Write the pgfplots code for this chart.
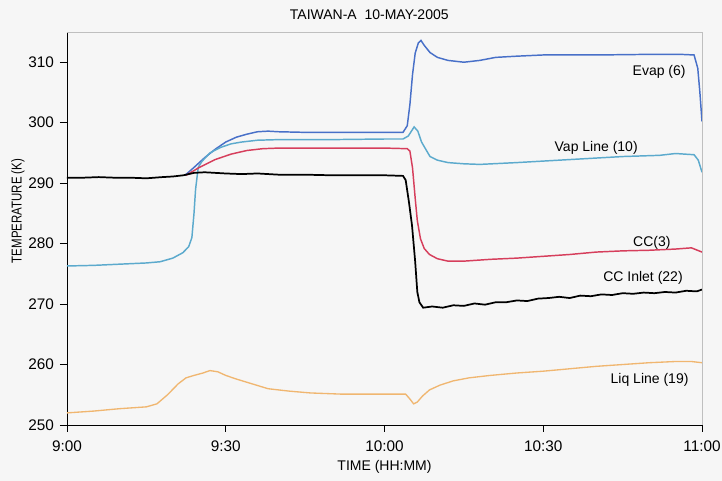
\documentclass[border=0pt]{standalone}
\usepackage{fontspec}
\setmainfont{Liberation Sans}
\newfontfamily\narrowfont{Liberation Sans}[FakeStretch=0.8]
\usepackage{pgfplots}
\pgfplotsset{compat=1.18}
\usetikzlibrary{backgrounds}

\definecolor{paper}{RGB}{246,246,246}
\definecolor{evapblue}{RGB}{72,112,200}
\definecolor{vapteal}{RGB}{92,170,205}
\definecolor{ccred}{RGB}{214,62,92}
\definecolor{liqorange}{RGB}{240,182,112}

\begin{document}
\begin{tikzpicture}
\begin{axis}[
  name=ax,
  scale only axis,
  width=476.25pt, height=294.75pt,
  xmin=0, xmax=120, ymin=250, ymax=315,
  axis lines*=left,
  axis line style={-, black, line width=0.6pt},
  tick align=outside,
  major tick length=5.25pt,
  tick style={black, line width=0.6pt},
  xtick={0,30,60,90,120},
  xticklabels={9:00,9:30,10:00,10:30,11:00},
  ytick={250,260,...,310},
  /pgf/number format/assume math mode=true,
  tick label style={font=\fontsize{11.5}{13}\selectfont},
  yticklabel style={xshift=-1pt},
  xticklabel style={yshift=-3pt},
  title={TAIWAN-A\ \ 10-MAY-2005},
  xlabel={TIME (HH:MM)},
  ylabel={TEMPERATURE (K)},
  every axis title/.style={at={(axis description cs:0.476,1.0433)}, anchor=center,
    font=\fontsize{10.5}{12}\selectfont},
  every axis x label/.style={at={(axis description cs:0.5,-0.1069)}, anchor=center,
    font=\fontsize{10.5}{12}\selectfont},
  every axis y label/.style={at={(axis description cs:-0.0772,0.5445)}, anchor=center, rotate=90,
    font=\narrowfont\fontsize{10.75}{12}\selectfont},
  clip=false,
]

% Evaporator (6)
\addplot[evapblue, line width=1.1pt] coordinates {
(22.3,291.3) (24,292.6) (26,294.2) (28,295.6) (30,296.8) (32,297.6) (34,298.1)
(36,298.5) (38,298.6) (40,298.5) (45,298.4) (50,298.4) (55,298.4) (60,298.4)
(63.5,298.4) (64.3,299.5) (64.8,303) (65.3,308) (65.8,311.5) (66.4,313.2)
(66.9,313.6) (67.5,312.8) (68.6,311.6) (70,310.8) (72,310.3) (75,310.0)
(78,310.3) (81,310.8) (85,311.0) (90,311.2) (100,311.2) (110,311.3)
(116,311.3) (118.5,311.2) (119.2,309) (119.6,305) (120,300.2)
};

% Vapour line (10)
\addplot[vapteal, line width=1.1pt] coordinates {
(0,276.3) (5,276.4) (10,276.6) (15,276.8) (17.6,277.0) (20,277.6) (21.9,278.5)
(23,279.5) (23.6,281) (24.0,285) (24.3,289) (24.8,292.6) (25.5,293.6)
(27,295.0) (29,295.9) (31,296.5) (33,296.8) (36,297.1) (40,297.2) (50,297.2)
(60,297.3) (63.5,297.3) (64.5,297.8) (65.6,299.3) (66.3,298.6) (67,296.8)
(68.6,294.4) (70,293.8) (72,293.4) (75,293.2) (78,293.1) (85,293.4)
(95,293.9) (105,294.4) (112,294.6) (115,294.9) (118.5,294.7) (119.3,293.8)
(120,291.8)
};

% Compensation chamber (3)
\addplot[ccred, line width=1.1pt] coordinates {
(22.5,291.3) (25,292.6) (28,293.9) (31,294.8) (34,295.4) (37,295.7) (40,295.8)
(50,295.8) (60,295.8) (64.3,295.7) (64.8,295.3) (65.3,292.5) (65.8,287.5)
(66.2,283.8) (66.8,280.8) (67.5,279.2) (68.5,278.2) (70,277.5) (72,277.1)
(75,277.1) (80,277.4) (85,277.6) (90,277.9) (95,278.2) (100,278.6)
(105,278.8) (110,278.9) (115,279.1) (118,279.3) (120,278.6)
};

% Liquid line (19)
\addplot[liqorange, line width=1.0pt] coordinates {
(0,252.0) (5,252.3) (10,252.7) (15,253.0) (17,253.5) (19,255.0) (21,256.8)
(22.5,257.8) (24,258.2) (25.7,258.6) (27,259.0) (28.5,258.8) (30,258.2)
(32,257.6) (35,256.8) (38,256.0) (42,255.6) (46,255.3) (52,255.1) (58,255.1)
(64,255.1) (64.8,254.3) (65.5,253.5) (66.2,253.8) (67.2,254.8) (68.5,255.8)
(70.5,256.6) (73,257.3) (76,257.8) (80,258.2) (85,258.6) (90,258.9)
(95,259.3) (100,259.7) (105,260.0) (110,260.3) (115,260.5) (118,260.5)
(120,260.3)
};

% CC inlet (22)
\addplot[black, line width=1.3pt] coordinates {
(0,290.9) (3,290.9) (6,291.0) (9,290.9) (12,290.9) (15,290.8) (18,291.0)
(20,291.1) (22,291.3) (24,291.7) (26,291.8) (28,291.7) (30,291.6) (33,291.5)
(36,291.6) (40,291.4) (45,291.4) (50,291.3) (55,291.3) (60,291.3)
(63.5,291.2) (64.0,290.5) (64.6,287) (65.2,283) (65.8,277) (66.2,272)
(66.6,270.3) (67.3,269.4) (69,269.6) (71,269.4) (73,269.8) (75,269.7)
(77,270.1) (79,269.9) (81,270.3) (83,270.3) (85,270.6) (87,270.5)
(89,270.9) (91,271.0) (93,271.2) (95,271.0) (97,271.4) (99,271.3)
(101,271.6) (103,271.5) (105,271.8) (107,271.7) (109,271.9) (111,271.8)
(113,272.0) (115,271.9) (117,272.2) (119,272.1) (120,272.4)
};

% plot area border on top and right
\draw[gray!50, line width=0.5pt] (rel axis cs:0,1) -- (rel axis cs:1,1) -- (rel axis cs:1,0);

% series labels
\begin{scope}[every node/.style={font=\fontsize{10.5}{12}\selectfont, inner sep=0pt}]
\node at (axis cs:111.9,308.4) {Evap (6)};
\node[anchor=east] at (axis cs:107.9,295.9) {Vap Line (10)};
\node[anchor=east] at (axis cs:114.1,280.2) {CC(3)};
\node[anchor=east] at (axis cs:116.4,274.4) {CC Inlet (22)};
\node[anchor=east] at (axis cs:117.5,257.5) {Liq Line (19)};
\end{scope}
\end{axis}

\pgfresetboundingbox
\path ([shift={(-50.25pt,-42pt)}]ax.south west) rectangle ([shift={(15pt,24pt)}]ax.north east);
\begin{pgfonlayer}{background}
\fill[paper] ([shift={(-50.25pt,-42pt)}]ax.south west) rectangle ([shift={(15pt,24pt)}]ax.north east);
\end{pgfonlayer}
\end{tikzpicture}
\end{document}
